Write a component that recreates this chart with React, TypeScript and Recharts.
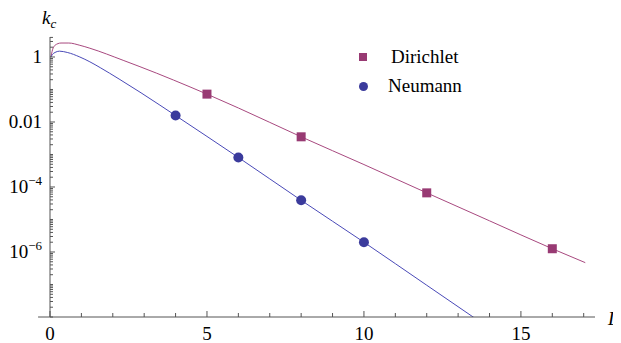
import React from "react";
import {
    ComposedChart,
    Line,
    Scatter,
    XAxis,
    YAxis,
    ReferenceLine,
} from "recharts";

// curves (L, k_c)
const dirichletL = [0.03, 0.08, 0.16, 0.35, 0.6, 0.95, 1.27, 2.33, 3.4, 4.46, 5, 6, 8, 10, 12, 14, 16, 17.05];
const dirichletK = [1.0, 1.66, 2.29, 2.69, 2.69, 2.29, 1.86, 0.79, 0.316, 0.12, 0.072, 0.027, 0.0035, 4.9e-4, 6.6e-5, 9.1e-6, 1.26e-6, 4.7e-7];

const neumannL = [0.03, 0.08, 0.16, 0.3, 0.55, 0.95, 1.27, 1.6, 2.2, 2.9, 3.5, 4, 5, 6, 8, 10, 12, 13.6];
const neumannK = [1.0, 1.2, 1.38, 1.51, 1.38, 1.0, 0.71, 0.47, 0.21, 0.079, 0.033, 0.0158, 0.0036, 8.1e-4, 3.9e-5, 2.0e-6, 9.5e-8, 8.3e-9];

// marked points
const dirichletPtsL = [5, 8, 12, 16];
const dirichletPtsK = [0.072, 0.0035, 6.6e-5, 1.26e-6];
const neumannPtsL = [4, 6, 8, 10];
const neumannPtsK = [0.0158, 8.1e-4, 3.9e-5, 2.0e-6];

const xTicks = [0, 1, 2, 3, 4, 5, 6, 7, 8, 9, 10, 11, 12, 13, 14, 15, 16, 17];
const xLabelled = [0, 5, 10, 15];
const yMajorTicks = [1, 0.01, 1e-4, 1e-6];
const yMajorLabels = [["1", ""], ["0.01", ""], ["10", "\u22124"], ["10", "\u22126"]];

const seriesNames = ["Dirichlet", "Neumann"];

const Y_MIN = 1e-8;
const Y_MAX = 4.12;

// log minor ticks j*10^k between the majors
const yMinorTicks: number[] = [];
for (let k = -8; k <= 0; k++) {
    for (let j = 1; j <= 9; j++) {
        const v = parseFloat((j * Math.pow(10, k)).toPrecision(6));
        if (v >= Y_MIN && v <= Y_MAX && !yMajorTicks.includes(v)) yMinorTicks.push(v);
    }
}
const yAllTicks = [...yMajorTicks, ...yMinorTicks];

const toPoints = (xs: number[], ys: number[]) => xs.map((x, i) => ({ x, y: ys[i] }));

const dirichletCurve = toPoints(dirichletL, dirichletK);
const neumannCurve = toPoints(neumannL, neumannK);
const dirichletMarks = toPoints(dirichletPtsL, dirichletPtsK);
const neumannMarks = toPoints(neumannPtsL, neumannPtsK);

const FONT = '"Liberation Serif", "Times New Roman", serif';
const AXIS = "#555";
const D_LINE = "#a8497f";
const D_MARK = "#983a73";
const N_LINE = "#4a4ab8";
const N_MARK = "#3b3b9c";

function YTick(props: any) {
    const { x, y, payload } = props;
    const idx = yMajorTicks.indexOf(payload.value);
    const len = idx >= 0 ? 5 : 3;
    return (
        <g>
            <line x1={x} x2={x + len} y1={y} y2={y} stroke={AXIS} strokeWidth={1} />
            {idx >= 0 && (
                <text x={x - 8} y={y + 6.5} textAnchor="end" fontFamily={FONT} fontSize={19} fill="#000">
                    <tspan>{yMajorLabels[idx][0]}</tspan>
                    {yMajorLabels[idx][1] && (
                        <tspan dy={-8} fontSize={13}>
                            {yMajorLabels[idx][1]}
                        </tspan>
                    )}
                </text>
            )}
        </g>
    );
}

function XTick(props: any) {
    const { x, y, payload } = props;
    const major = xLabelled.includes(payload.value);
    return (
        <g>
            <line x1={x} x2={x} y1={y} y2={y - (major ? 6 : 4)} stroke={AXIS} strokeWidth={1} />
            {major && (
                <text x={x} y={y + 22.5} textAnchor="middle" fontFamily={FONT} fontSize={19} fill="#000">
                    {payload.value}
                </text>
            )}
        </g>
    );
}

// "L" at the right end of the horizontal axis
const xAxisLabel = (props: any) => {
    const vb = props.viewBox;
    return (
        <text x={vb.x + vb.width + 13} y={vb.y + 8} fontFamily={FONT} fontStyle="italic" fontSize={19} fill="#000">
            L
        </text>
    );
};

const squareShape = (props: any) => (
    <rect x={props.cx - 4.5} y={props.cy - 4.5} width={9} height={9} fill={D_MARK} />
);
const circleShape = (props: any) => <circle cx={props.cx} cy={props.cy} r={5} fill={N_MARK} />;

export default function App() {
    return (
        <div style={{ position: "relative", width: 613, height: 335, fontFamily: FONT }}>
            <ComposedChart width={613} height={335} margin={{ top: 29, right: 26, bottom: 0, left: 0 }}>
                <XAxis
                    dataKey="x"
                    type="number"
                    domain={[0, 17.36]}
                    ticks={xTicks}
                    interval={0}
                    allowDataOverflow
                    height={26}
                    tickSize={0}
                    tickMargin={0}
                    tickLine={false}
                    axisLine={{ stroke: AXIS }}
                    tick={<XTick />}
                    label={{ content: xAxisLabel }}
                />
                <YAxis
                    type="number"
                    scale="log"
                    domain={[Y_MIN, Y_MAX]}
                    ticks={yAllTicks}
                    interval={0}
                    allowDataOverflow
                    width={42}
                    tickSize={0}
                    tickMargin={0}
                    tickLine={false}
                    axisLine={{ stroke: AXIS }}
                    tick={<YTick />}
                />
                <ReferenceLine
                    segment={[{ x: -0.38, y: Y_MIN }, { x: 0, y: Y_MIN }]}
                    ifOverflow="visible"
                    stroke={AXIS}
                />
                <Line
                    data={dirichletCurve}
                    dataKey="y"
                    type="monotone"
                    stroke={D_LINE}
                    strokeWidth={1}
                    dot={false}
                    activeDot={false}
                    isAnimationActive={false}
                />
                <Line
                    data={neumannCurve}
                    dataKey="y"
                    type="monotone"
                    stroke={N_LINE}
                    strokeWidth={1}
                    dot={false}
                    activeDot={false}
                    isAnimationActive={false}
                />
                <Scatter data={dirichletMarks} dataKey="y" shape={squareShape} isAnimationActive={false} />
                <Scatter data={neumannMarks} dataKey="y" shape={circleShape} isAnimationActive={false} />
            </ComposedChart>

            {/* axis label */}
            <div style={{ position: "absolute", left: 34, top: 0, fontSize: 19, fontStyle: "italic", lineHeight: "20px", whiteSpace: "nowrap" }}>
                k<span style={{ fontSize: 13, position: "relative", top: 4 }}>c</span>
            </div>

            {/* legend */}
            <div style={{ position: "absolute", left: 351, top: 45, width: 8, height: 8, background: D_MARK }} />
            <div style={{ position: "absolute", left: 383, top: 38, fontSize: 19, lineHeight: "22px", whiteSpace: "nowrap" }}>
                {seriesNames[0]}
            </div>
            <div style={{ position: "absolute", left: 350.5, top: 73.5, width: 9, height: 9, borderRadius: "50%", background: N_MARK }} />
            <div style={{ position: "absolute", left: 380, top: 67, fontSize: 19, lineHeight: "22px", whiteSpace: "nowrap" }}>
                {seriesNames[1]}
            </div>
        </div>
    );
}
